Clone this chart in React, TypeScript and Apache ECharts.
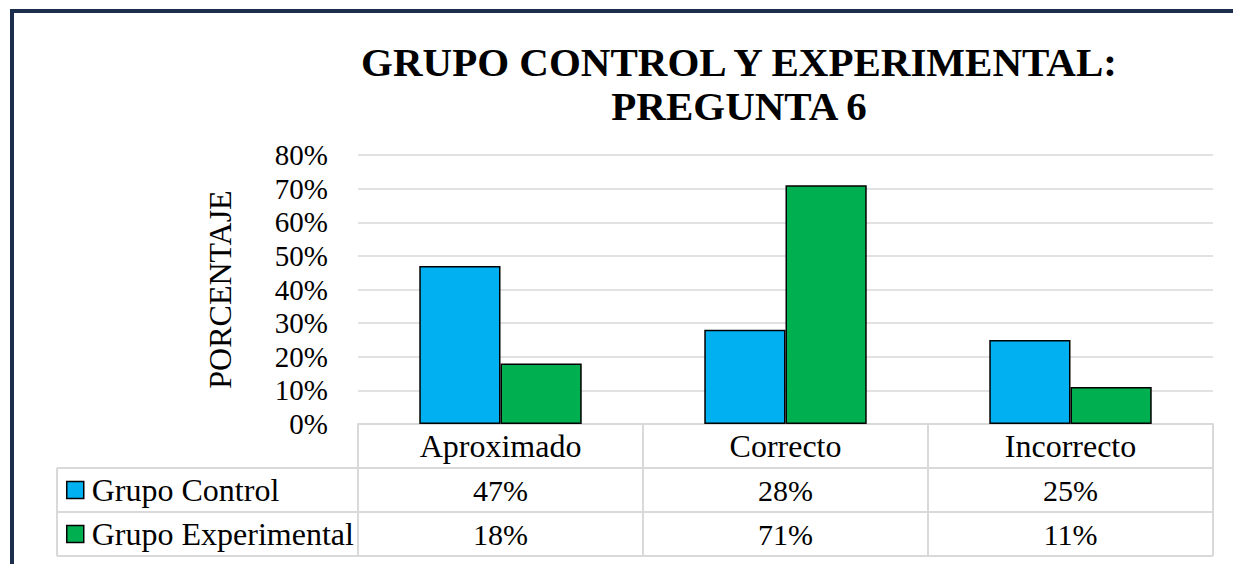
import React, { useEffect, useRef } from "react";
import * as echarts from "echarts";

const categories = ["Aproximado", "Correcto", "Incorrecto"];
const seriesNames = ["Grupo Control", "Grupo Experimental"];
const controlValues = [47, 28, 25];
const experimentalValues = [18, 71, 11];
const yTicks = { min: 0, max: 80, interval: 10 };
const titleText = "GRUPO CONTROL Y EXPERIMENTAL:\nPREGUNTA 6";
const yAxisName = "PORCENTAJE";

const FONT = "'Times New Roman', 'Liberation Serif', serif";
const GRID = { left: 358, top: 155, width: 855, height: 269 };
const ROW_H = 44;
const TABLE_LEFT = 57;
const LINE_COLOR = "#D9D9D9";

export default function App() {
  const ref = useRef<HTMLDivElement>(null);
  useEffect(() => {
    if (!ref.current) return;
    const chart = echarts.init(ref.current, null, { renderer: "svg" });
    const bottom = GRID.top + GRID.height;
    const rowLines = [1, 2, 3].map((k) => ({
      type: "line",
      shape: { x1: TABLE_LEFT, y1: bottom + ROW_H * k, x2: GRID.left + GRID.width, y2: bottom + ROW_H * k },
      style: { stroke: LINE_COLOR, lineWidth: 2 },
      silent: true,
    }));
    const wordStyle = { fontFamily: FONT, fontSize: 32, color: "#000" };
    const numStyle = { fontFamily: FONT, fontSize: 30, color: "#000" };
    const valueAxis = (vals: number[], offset: number) => ({
      type: "category",
      data: categories,
      gridIndex: 0,
      position: "bottom",
      offset,
      axisLine: { show: false },
      axisTick: { show: false },
      axisLabel: {
        ...numStyle,
        margin: 0,
        lineHeight: ROW_H,
        formatter: (_v: string, i: number) => vals[i] + "%",
      },
    });
    chart.setOption({
      animation: false,
      backgroundColor: "#fff",
      title: {
        text: titleText,
        left: 734,
        top: 35,
        textAlign: "center",
        textStyle: { fontFamily: FONT, fontWeight: "bold", fontSize: 41, lineHeight: 44, color: "#000" },
      },
      grid: { ...GRID, containLabel: false },
      legend: {
        orient: "vertical",
        left: 66,
        top: bottom + ROW_H,
        itemWidth: 17,
        itemHeight: 17,
        itemGap: 0,
        padding: 0,
        icon: "rect",
        data: seriesNames,
        itemStyle: { borderColor: "#000", borderWidth: 1.5 },
        textStyle: { ...wordStyle, lineHeight: ROW_H, padding: [0, 0, 0, 3] },
      },
      xAxis: [
        {
          type: "category",
          data: categories,
          position: "bottom",
          axisLine: { show: true, lineStyle: { color: LINE_COLOR, width: 2 } },
          axisTick: { show: true, alignWithLabel: false, length: ROW_H * 3, lineStyle: { color: LINE_COLOR, width: 2 } },
          axisLabel: { ...wordStyle, margin: 0, lineHeight: ROW_H },
        },
        valueAxis(controlValues, ROW_H),
        valueAxis(experimentalValues, ROW_H * 2),
      ],
      yAxis: {
        type: "value",
        min: yTicks.min,
        max: yTicks.max,
        interval: yTicks.interval,
        name: yAxisName,
        nameLocation: "middle",
        nameRotate: 90,
        nameGap: 122,
        nameTextStyle: { fontFamily: FONT, fontSize: 32, color: "#000" },
        axisLine: { show: false },
        axisTick: { show: false },
        axisLabel: { fontFamily: FONT, fontSize: 29, color: "#000", margin: 30, formatter: "{value}%" },
        splitLine: { lineStyle: { color: LINE_COLOR, width: 1.5 } },
      },
      series: [
        {
          name: seriesNames[0],
          type: "bar",
          data: controlValues,
          barGap: "0%",
          barCategoryGap: "43%",
          itemStyle: { color: "#00B0F0", borderColor: "#000", borderWidth: 1.5 },
        },
        {
          name: seriesNames[1],
          type: "bar",
          data: experimentalValues,
          barGap: "0%",
          barCategoryGap: "43%",
          itemStyle: { color: "#00B050", borderColor: "#000", borderWidth: 1.5 },
        },
      ],
      graphic: [
        ...rowLines,
        {
          type: "line",
          shape: { x1: TABLE_LEFT, y1: bottom + ROW_H, x2: TABLE_LEFT, y2: bottom + ROW_H * 3 },
          style: { stroke: LINE_COLOR, lineWidth: 2 },
          silent: true,
        },
        {
          type: "rect",
          shape: { x: 12, y: 11, width: 1400, height: 800 },
          style: { fill: "none", stroke: "#1B2E4B", lineWidth: 4 },
          silent: true,
          z: 100,
        },
      ],
    });
    return () => chart.dispose();
  }, []);
  return (
    <div
      ref={ref}
      style={{ position: "absolute", left: 0, top: 0, width: 1233, height: 564, background: "#fff" }}
    />
  );
}
